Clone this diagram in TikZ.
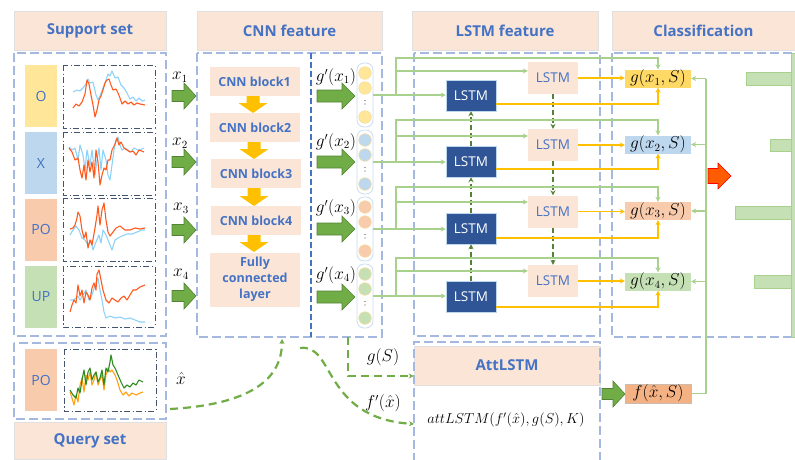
\documentclass[tikz,border=0pt]{standalone}
\usepackage{fontspec}
\setmainfont{Open Sans}
\usetikzlibrary{arrows.meta,calc}
\definecolor{peach}{HTML}{FBE5D6}
\definecolor{tblue}{HTML}{4472C4}
\definecolor{pdash}{HTML}{A4B8E0}
\definecolor{sqy}{HTML}{FFE699}
\definecolor{sqb}{HTML}{BDD7EE}
\definecolor{sqo}{HTML}{F8CBAD}
\definecolor{sqg}{HTML}{C5E0B4}
\definecolor{gln}{HTML}{A9D18E}
\definecolor{yln}{HTML}{FFC000}
\definecolor{dkl}{HTML}{2F5597}
\definecolor{dgr}{HTML}{548235}
\definecolor{mgr}{HTML}{70AD47}
\definecolor{gyel}{HTML}{FFD966}
\definecolor{fboxc}{HTML}{F4B183}
\definecolor{chb}{HTML}{44546A}
\definecolor{cblue}{HTML}{8ED3F7}
\definecolor{cred}{HTML}{FF5A1E}
\definecolor{cgreen}{HTML}{2E8B20}
\definecolor{corange}{HTML}{FFA010}
\definecolor{redarr}{HTML}{FF5B00}
\definecolor{circb}{HTML}{F7DFA0}
\newcommand\hbarrow[7]{\filldraw[#1] (#2,#4-#5) -- (#3-#7,#4-#5) -- (#3-#7,#4-#6) -- (#3,#4) -- (#3-#7,#4+#6) -- (#3-#7,#4+#5) -- (#2,#4+#5) -- cycle;}
\newcommand\vbarrow[7]{\filldraw[#1] (#4-#5,#2) -- (#4-#5,#3-#7) -- (#4-#6,#3-#7) -- (#4,#3) -- (#4+#6,#3-#7) -- (#4+#5,#3-#7) -- (#4+#5,#2) -- cycle;}
\begin{document}
\begin{tikzpicture}[x=1pt,y=-1pt,
  hdr/.style={fill=peach, draw=black!12, line width=0.6, text=tblue, font=\fontsize{15}{18}\selectfont\bfseries, inner sep=0},
  panel/.style={draw=pdash, line width=1.8, dash pattern=on 9 off 4},
  sq/.style={minimum width=32, minimum height=62, inner sep=0, text=tblue, font=\fontsize{14}{16}\selectfont},
  chart/.style={draw=chb, line width=0.9, dash pattern=on 6 off 2.5 on 1.2 off 2.5},
  cnnb/.style={fill=peach, minimum width=90, minimum height=29, inner sep=0, text=tblue, font=\fontsize{12.5}{16}\selectfont\bfseries, align=center},
  dlstm/.style={fill=dkl, draw=sqb, line width=0.5, minimum width=50, minimum height=31, text=white, font=\fontsize{13.5}{16}\selectfont, inner sep=0},
  plstm/.style={fill=peach, minimum width=50, minimum height=32, text=tblue, font=\fontsize{13.5}{16}\selectfont, inner sep=0},
  gl/.style={draw=gln, line width=1.6},
  yl/.style={draw=yln, line width=1.6},
  tip/.style={-{Stealth[length=5,width=5]}},
  dgd/.style={draw=dgr, line width=1.8, dash pattern=on 5 off 3},
  gd/.style={draw=mgr, line width=2.2, dash pattern=on 8 off 5},
  gbox/.style={minimum width=66, minimum height=18, inner sep=0, font=\fontsize{16}{18}\selectfont},
  lab/.style={font=\fontsize{16}{18}\selectfont, inner sep=0},
  capsule/.style={draw=sqb!80!tblue!60, line width=0.8, rounded corners=7, minimum width=16, minimum height=64, inner sep=0},
  cb/.style={draw=cblue, line width=1.1, line join=round},
  cr/.style={draw=cred, line width=1.1, line join=round}
]
\useasboundingbox (0,0) rectangle (795,459);
% headers
\node[hdr, minimum width=152, minimum height=39] (hsup) at (90,30.5) {Support set};
\node[hdr, minimum width=185, minimum height=39] (hcnn) at (289.5,30.5) {CNN feature};
\node[hdr, minimum width=186, minimum height=39] (hlstm) at (505,30.5) {LSTM feature};
\node[hdr, minimum width=183, minimum height=39] (hcls) at (703.5,30.5) {Classification};
\node[hdr, minimum width=152, minimum height=37] (hq) at (90,440.5) {Query set};
\node[hdr, minimum width=186, minimum height=39] (atthead) at (507,365.5) {AttLSTM};
% panels
\draw[panel] (14,53) rectangle (166,336);
\draw[panel] (14,343) rectangle (166,419);
\draw[panel] (197,53) rectangle (382,337);
\draw[panel] (414,53) rectangle (600,336);
\draw[panel] (414,462) -- (414,342) -- (600,342) -- (600,462);
\draw[panel] (612,53) rectangle (795,337);
\draw[draw=tblue, line width=1.3, dash pattern=on 6 off 3] (311,53) -- (311,337);
% support squares
\node[sq, fill=sqy] (sqO) at (41,96) {O};
\node[sq, fill=sqb] (sqX) at (41,163) {X};
\node[sq, fill=sqo] (sqPO) at (41,229.5) {PO};
\node[sq, fill=sqg] (sqUP) at (41,296.5) {UP};
\node[sq, fill=sqo] (sqQ) at (41,380) {PO};
% charts
\draw[chart] (63,65) rectangle (155,128);
\draw[chart] (63,132) rectangle (155,195);
\draw[chart] (63,198) rectangle (155,261);
\draw[chart] (63,266) rectangle (155,327);
\draw[chart] (64,349) rectangle (156,411);
\draw[cb] plot coordinates {(73,92) (77,90) (80,91) (83,88) (86,84) (88,79) (90,83) (93,82) (96,95) (98,100) (100,96) (103,88) (106,80) (108,74) (110,76) (112,71) (115,78) (118,77) (121,85) (124,88) (127,93) (130,99) (133,97) (136,101) (139,98) (142,101) (145,100)};
\draw[cr] plot coordinates {(73,108) (76,104) (79,106) (82,102) (85,94) (87,80) (89,84) (91,95) (93,105) (95,117) (97,110) (99,100) (101,96) (103,90) (105,83) (107,80) (109,79) (111,85) (113,90) (116,89) (118,93) (120,98) (122,104) (125,101) (128,104) (131,102) (134,105) (137,103) (140,104) (145,105)};
\draw[cb] plot coordinates {(69,147) (72,150) (75,148) (78,160) (80,145) (83,155) (85,170) (87,150) (90,165) (92,150) (95,175) (97,160) (99,148) (101,170) (103,150) (106,160) (108,175) (110,180) (112,165) (114,150) (116,140) (118,137) (120,145) (122,150) (125,148) (128,150) (131,152) (134,148) (138,150) (140,150) (144,148)};
\draw[cr] plot coordinates {(69,148) (72,152) (75,160) (78,158) (80,170) (82,178) (84,165) (86,180) (88,160) (90,172) (92,162) (94,178) (96,150) (98,162) (100,185) (102,175) (104,168) (106,170) (108,160) (110,160) (112,150) (115,144) (117,138) (119,145) (121,142) (124,148) (127,150) (130,152) (133,151) (136,155) (139,150) (144,152)};
\draw[cb] plot coordinates {(70,235) (73,230) (76,226) (79,230) (82,238) (85,240) (88,245) (91,240) (93,250) (96,242) (99,235) (101,243) (103,230) (106,235) (108,240) (110,245) (112,250) (115,240) (118,238) (122,236) (127,234) (132,234) (137,232) (142,230) (145,230)};
\draw[cr] plot coordinates {(70,229) (73,228) (75,225) (77,218) (78,212) (80,216) (82,230) (84,238) (86,232) (88,248) (90,240) (92,245) (95,228) (97,215) (98,206) (100,225) (102,210) (104,203) (106,220) (108,232) (110,236) (113,232) (116,228) (120,226) (125,230) (130,230) (135,228) (140,229) (145,228)};
\draw[cb] plot coordinates {(70,300) (73,300) (76,298) (78,296) (80,300) (83,295) (86,290) (89,300) (92,295) (95,285) (98,278) (100,290) (102,300) (104,312) (106,318) (110,316) (115,318) (120,317) (125,319) (130,318) (135,320) (140,322) (145,322)};
\draw[cr] plot coordinates {(70,312) (72,305) (74,300) (76,303) (78,285) (80,296) (82,290) (84,303) (86,292) (88,295) (90,300) (92,288) (94,283) (96,290) (97,274) (99,270) (101,280) (103,290) (106,300) (109,303) (112,298) (115,300) (118,302) (121,298) (124,296) (127,300) (130,295) (133,290) (136,290) (140,287) (145,285)};
\draw[draw=corange, line width=1.1, line join=round] plot coordinates {(70,392) (72,398) (74,405) (76,395) (78,402) (80,385) (82,378) (84,392) (86,375) (88,380) (90,372) (92,385) (94,380) (96,372) (98,385) (100,380) (102,375) (104,390) (106,375) (108,368) (110,372) (112,370) (115,375) (117,380) (120,390) (123,395) (126,392) (129,396) (132,393) (136,395) (140,393) (143,392)};
\draw[draw=cgreen, line width=1.1, line join=round] plot coordinates {(70,390) (73,395) (76,398) (78,388) (80,393) (82,380) (84,370) (86,385) (88,372) (90,368) (92,380) (94,375) (96,372) (98,382) (100,378) (102,370) (104,385) (106,368) (108,372) (110,362) (111,355) (113,365) (115,368) (118,375) (121,382) (124,388) (127,385) (130,387) (133,383) (136,385) (139,380) (143,382)};
% x arrows
\foreach \yy in {96,162,230,296} {\hbarrow{fill=mgr,draw=dgr,line width=0.6}{172}{196}{\yy}{5.5}{13}{12}}
\node[lab] (lx1) at (180,77) {$x_1$};
\node[lab] (lx2) at (180,143) {$x_2$};
\node[lab] (lx3) at (181,208) {$x_3$};
\node[lab] (lx4) at (181,274) {$x_4$};
\node[lab] (lxh) at (181,378) {$\hat{x}$};
% CNN blocks
\node[cnnb] (c1) at (254.5,81.5) {CNN block1};
\node[cnnb] (c2) at (255,127.5) {CNN block2};
\node[cnnb] (c3) at (256,173.5) {CNN block3};
\node[cnnb] (c4) at (256,220.5) {CNN block4};
\node[cnnb, minimum height=54] (fc) at (255,279.5) {Fully\\connected\\layer};
\vbarrow{fill=yln,draw=none}{96}{113}{253}{6.5}{14.5}{10}
\vbarrow{fill=yln,draw=none}{142}{159}{254}{6.5}{14.5}{10}
\vbarrow{fill=yln,draw=none}{188}{206}{254}{6.5}{14.5}{10}
\vbarrow{fill=yln,draw=none}{235}{252}{254}{6.5}{14.5}{10}
% g' arrows and labels
\foreach \yy in {96,162,229,297} {\hbarrow{fill=mgr,draw=dgr,line width=0.6}{317}{355}{\yy}{6}{13}{13}}
\node[lab] (gp1) at (336,77) {$g'(x_1)$};
\node[lab] (gp2) at (336,142) {$g'(x_2)$};
\node[lab] (gp3) at (336,208) {$g'(x_3)$};
\node[lab] (gp4) at (336,275) {$g'(x_4)$};
% capsules
\foreach \i/\T/\cc in {1/63/sqy,2/130/sqb,3/197/sqo,4/264/sqg} {
  \node[capsule] (cap\i) at (365,\T+32) {};
  \foreach \dy in {10,25,54} {\filldraw[fill=\cc, draw=circb, line width=0.6] (365,\T+\dy) circle (6.3);}
  \fill[black!70] (365,\T+37.5) circle (0.7) (365,\T+41) circle (0.7);
}
% LSTM nodes
\node[dlstm] (dl1) at (471,95.5) {LSTM};
\node[dlstm] (dl2) at (471,161.5) {LSTM};
\node[dlstm] (dl3) at (471,228.5) {LSTM};
\node[dlstm] (dl4) at (471,296.5) {LSTM};
\node[plstm] (pl1) at (553,78) {LSTM};
\node[plstm] (pl2) at (553,145) {LSTM};
\node[plstm] (pl3) at (553,211.5) {LSTM};
\node[plstm] (pl4) at (553,281) {LSTM};
% g boxes
\node[gbox, fill=gyel] (gb1) at (658,78.5) {$g(x_1,S)$};
\node[gbox, fill=sqb] (gb2) at (658,144.5) {$g(x_2,S)$};
\node[gbox, fill=sqo] (gb3) at (658,211) {$g(x_3,S)$};
\node[gbox, fill=sqg] (gb4) at (658,281.5) {$g(x_4,S)$};
\node[gbox, fill=fboxc, draw=sqo!70!black!60, line width=0.5, minimum height=19] (fb) at (658,393.5) {$f(\hat{x},S)$};
% vertical LSTM arrows
\draw[dgd,tip] (dl4.north) -- (dl3.south);
\draw[dgd,tip] (dl3.north) -- (dl2.south);
\draw[dgd,tip] (dl2.north) -- (dl1.south);
\draw[dgd,tip] (pl1.south) -- (pl2.north);
\draw[dgd,tip] (pl2.south) -- (pl3.north);
\draw[dgd,tip] (pl3.south) -- (pl4.north);
% connections
\coordinate (jx) at (396,0);
\coordinate (bus) at (706,0);
\draw[gl] (fb.east) -| (gb1.east -| bus);
\foreach \i/\yt/\yp/\yb in {1/58/71/104, 2/120/136/169, 3/187/202/238, 4/258/271/307} {
  \coordinate (j\i) at (cap\i.east -| jx);
  \coordinate (p\i) at (396,\yp);
  \coordinate (t\i) at (396,\yt);
  \coordinate (b\i) at (0,\yb);
  \draw[gl,tip] (cap\i.east) -- (cap\i.east -| dl\i.west);
  \draw[gl,tip] (j\i) -- (p\i) -- (p\i -| pl\i.west);
  \draw[gl,tip] (j\i) -- (t\i) -| (gb\i.north);
  \draw[yl,tip] (b\i -| dl\i.east) -| (gb\i.south);
  \draw[yl,tip] (pl\i.east) -- (pl\i.east -| gb\i.west);
  \draw[gl,tip] (gb\i.east -| bus) -- (gb\i.east);
}
% classification bars
\filldraw[fill=sqg, draw=gln, line width=0.6] (791,53) rectangle (795,337);
\filldraw[fill=sqg, draw=gln, line width=0.6] (746,72) rectangle (791,85);
\filldraw[fill=sqg, draw=gln, line width=0.6] (770,139) rectangle (791,151);
\filldraw[fill=sqg, draw=gln, line width=0.6] (735,206) rectangle (791,219);
\filldraw[fill=sqg, draw=gln, line width=0.6] (754,275) rectangle (791,288);
\hbarrow{fill=redarr,draw=red,line width=0.6}{708}{731}{176}{7.5}{13}{13}
\hbarrow{fill=mgr,draw=dgr,line width=0.6}{602}{625}{394}{5.5}{13}{12}
% attention part
\node[lab, font=\fontsize{14}{16}\selectfont] (attx) at (506,420) {$attLSTM(f'(\hat{x}),g(S),K)$};
\coordinate (gs0) at (348,337);
\draw[gd,tip] (gs0) |- ([yshift=-10.5pt]atthead.west);
\node[lab] (lgs) at (383,357) {$g(S)$};
\coordinate (fp0) at (300,348);
\coordinate (fp1) at (414,424);
\draw[gd,tip] (fp0) .. controls (335,343) and (322,418) .. (fp1);
\node[lab] (lfp) at (383,403) {$f'(\hat{x})$};
\coordinate (xh0) at (170,409);
\coordinate (xh1) at (282,339);
\draw[gd,tip] (xh0) .. controls (240,405) and (282,385) .. (xh1);
\end{tikzpicture}
\end{document}
